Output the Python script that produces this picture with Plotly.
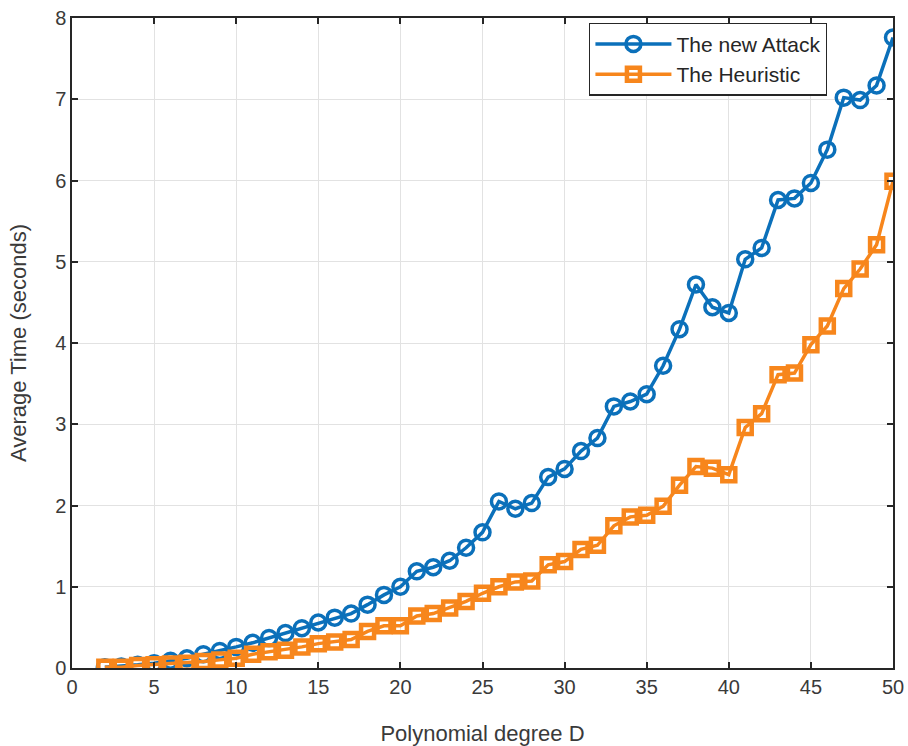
import plotly.graph_objects as go

degrees = list(range(2, 51))
new_attack = [0.01, 0.02, 0.04, 0.06, 0.09, 0.12, 0.17, 0.21, 0.26, 0.31, 0.37, 0.43, 0.49, 0.56,
              0.62, 0.67, 0.78, 0.90, 1.00, 1.19, 1.24, 1.32, 1.48, 1.67, 2.05, 1.96, 2.03, 2.35,
              2.45, 2.67, 2.83, 3.22, 3.28, 3.37, 3.72, 4.17, 4.72, 4.44, 4.37, 5.03, 5.17, 5.76,
              5.78, 5.97, 6.38, 7.02, 6.99, 7.17, 7.76]
heuristic = [0.01, 0.01, 0.03, 0.04, 0.05, 0.06, 0.08, 0.10, 0.12, 0.17, 0.20, 0.22, 0.26, 0.30,
             0.32, 0.35, 0.45, 0.52, 0.52, 0.64, 0.67, 0.74, 0.82, 0.92, 1.00, 1.06, 1.07, 1.27,
             1.31, 1.46, 1.51, 1.75, 1.86, 1.88, 1.99, 2.25, 2.48, 2.46, 2.38, 2.96, 3.13, 3.61,
             3.63, 3.98, 4.21, 4.67, 4.91, 5.21, 5.99]
x_ticks = [0, 5, 10, 15, 20, 25, 30, 35, 40, 45, 50]
y_ticks = [0, 1, 2, 3, 4, 5, 6, 7, 8]

blue = "#0B70BA"
orange = "#F7861C"
font_family = "Liberation Sans, Arial"
text_color = "#3A3A3A"

fig = go.Figure()
fig.add_trace(go.Scatter(
    x=degrees, y=new_attack, mode="lines+markers", name="The new Attack",
    line=dict(color=blue, width=3.5),
    marker=dict(symbol="circle-open", size=15, color=blue, line=dict(width=3.5, color=blue)),
))
fig.add_trace(go.Scatter(
    x=degrees, y=heuristic, mode="lines+markers", name="The Heuristic",
    line=dict(color=orange, width=3.5),
    marker=dict(symbol="square-open", size=13, color=orange, line=dict(width=4.5, color=orange)),
))

axis_common = dict(
    showline=True, linecolor="#262626", linewidth=1.5, mirror="ticks",
    ticks="inside", ticklen=6, tickcolor="#262626", tickwidth=1.5,
    showgrid=True, gridcolor="#E2E2E2", gridwidth=1, zeroline=False,
    automargin=False,
    tickfont=dict(family=font_family, size=20, color=text_color),
)

fig.update_layout(
    width=908, height=746,
    margin=dict(l=72, r=15, t=18, b=78),
    paper_bgcolor="white", plot_bgcolor="white",
    xaxis=dict(range=[0, 50], tickvals=x_ticks,
               title=dict(text="Polynomial degree D", standoff=30,
                          font=dict(family=font_family, size=22, color=text_color)),
               **axis_common),
    yaxis=dict(range=[0, 8], tickvals=y_ticks,
               title=dict(text="Average Time (seconds)", standoff=22,
                          font=dict(family=font_family, size=22, color=text_color)),
               **axis_common),
    legend=dict(x=0.63, y=0.993, xanchor="left", yanchor="top",
                bgcolor="white", bordercolor="#262626", borderwidth=1.2,
                font=dict(family=font_family, size=21, color="#262626"),
                itemwidth=76, tracegroupgap=0),
    showlegend=True,
)

fig.write_html("out.html")
